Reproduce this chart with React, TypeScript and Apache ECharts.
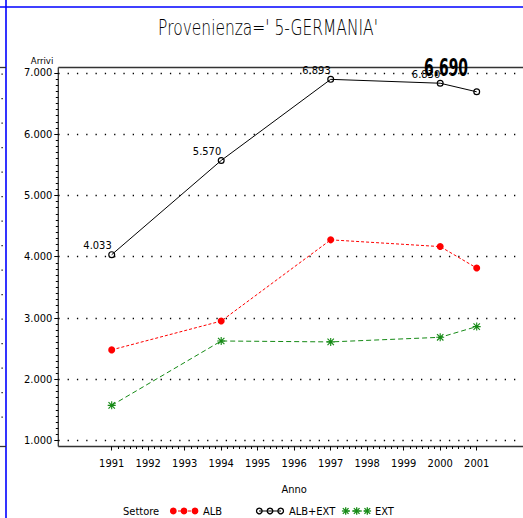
import React, { useEffect, useRef } from 'react';
import * as echarts from 'echarts';

// ---- data ----
const years = [1991, 1994, 1997, 2000, 2001];
const albExt = [4033, 5570, 6893, 6830, 6690];
const alb = [2480, 2950, 4275, 4165, 3815];
const ext = [1575, 2625, 2610, 2685, 2860];
const seriesNames = ['ALB', 'ALB+EXT', 'EXT'];
const titleText = "Provenienza=' 5-GERMANIA'";
const yAxisName = 'Arrivi';
const xAxisName = 'Anno';
const legendTitle = 'Settore';
const yMin = 1000;
const yMax = 7000;
const yStep = 1000;
const xMin = 1991;
const xMax = 2001;

const FONT = "'Liberation Sans Narrow', 'DejaVu Sans Condensed', 'Arial Narrow', sans-serif";
const RED = '#ff0000';
const BLACK = '#000000';
const GREEN = '#158a15';

const STAR =
  'path://M0 4.3H10V5.7H0Z M4.3 0H5.7V10H4.3Z M1.5 0.5L9.5 8.5L8.5 9.5L0.5 1.5Z M8.5 0.5L9.5 1.5L1.5 9.5L0.5 8.5Z';
const RING =
  'path://M5 0A5 5 0 1 1 5 10A5 5 0 1 1 5 0Z M5 1.7A3.3 3.3 0 1 0 5 8.3A3.3 3.3 0 1 0 5 1.7Z';

const fmt = (v: number) => {
  const s = Math.round(v).toString();
  return s.length > 3 ? s.slice(0, -3) + '.' + s.slice(-3) : s;
};

// layout
const W = 523;
const H = 518;
const X0 = 111.7;
const X1 = 476.7;
const YT = 72.8;
const YB = 440.6;
const FRAME_L = 58.3;
const FRAME_T = 67.5;
const FRAME_B = 446.5;

function measure(text: string, font: string) {
  const c = document.createElement('canvas').getContext('2d');
  if (!c) return text.length * 8;
  c.font = font;
  return c.measureText(text).width || text.length * 8;
}

function starLines(cx: number, cy: number, r: number, color: string) {
  const d = r * 0.75;
  const segs = [
    [cx - r, cy, cx + r, cy],
    [cx, cy - r, cx, cy + r],
    [cx - d, cy - d, cx + d, cy + d],
    [cx + d, cy - d, cx - d, cy + d],
  ];
  return segs.map((s) => ({
    type: 'line',
    shape: { x1: s[0], y1: s[1], x2: s[2], y2: s[3] },
    style: { stroke: color, lineWidth: 1.3 },
    silent: true,
  }));
}

export default function App() {
  const ref = useRef<HTMLDivElement>(null);
  useEffect(() => {
    document.body.style.margin = '0';
    const chart = echarts.init(ref.current!, null, { renderer: 'svg' });

    const graphics: any[] = [];
    // blue frame remnants
    graphics.push({ type: 'line', shape: { x1: 0, y1: 7, x2: W, y2: 7 }, style: { stroke: '#0000ff', lineWidth: 1.6 } });
    graphics.push({ type: 'line', shape: { x1: 6, y1: 0, x2: 6, y2: H }, style: { stroke: '#0000ff', lineWidth: 1.6 } });
    graphics.push({ type: 'line', shape: { x1: 0, y1: FRAME_T, x2: 6, y2: FRAME_T }, style: { stroke: '#333', lineWidth: 1.3 } });
    graphics.push({ type: 'line', shape: { x1: 0, y1: FRAME_B, x2: 6, y2: FRAME_B }, style: { stroke: '#333', lineWidth: 1.3 } });
    for (let k = 0; k <= 14; k++) {
      graphics.push({ type: 'rect', shape: { x: 1.5, y: 73.5 + k * 24.5, width: 1.2, height: 1.2 }, style: { fill: '#000' } });
    }
    // plot frame
    graphics.push({ type: 'line', shape: { x1: FRAME_L, y1: FRAME_T, x2: W, y2: FRAME_T }, style: { stroke: '#333', lineWidth: 1.5 } });
    graphics.push({ type: 'line', shape: { x1: FRAME_L, y1: FRAME_B, x2: W, y2: FRAME_B }, style: { stroke: '#333', lineWidth: 1.5 } });
    graphics.push({ type: 'line', shape: { x1: FRAME_L, y1: FRAME_T, x2: FRAME_L, y2: FRAME_B }, style: { stroke: '#333', lineWidth: 1.3 } });
    // title (thin, condensed to the reference width)
    const titleFontFamily = "'DejaVu Sans', sans-serif";
    const titleW = measure(titleText, `200 21px ${titleFontFamily}`);
    graphics.push({
      type: 'text',
      x: 268,
      y: 28,
      scaleX: 220 / titleW,
      style: {
        text: titleText,
        fontFamily: titleFontFamily,
        fontWeight: 200,
        fontSize: 21,
        fill: '#000',
        align: 'center',
        verticalAlign: 'middle',
      },
    });
    // legend
    const ly = 511;
    graphics.push({ type: 'text', x: 123, y: ly, style: { text: legendTitle, fontFamily: FONT, fontSize: 11, fill: '#000', verticalAlign: 'middle' } });
    // ALB
    graphics.push({ type: 'line', shape: { x1: 173, y1: ly, x2: 195, y2: ly }, style: { stroke: RED, lineWidth: 1, lineDash: [3, 2] } });
    [173.3, 184, 195].forEach((cx) =>
      graphics.push({ type: 'circle', shape: { cx, cy: ly, r: 3.4 }, style: { fill: RED } })
    );
    graphics.push({ type: 'text', x: 203, y: ly, style: { text: seriesNames[0], fontFamily: FONT, fontSize: 11, fill: '#000', verticalAlign: 'middle' } });
    // ALB+EXT
    graphics.push({ type: 'line', shape: { x1: 259, y1: ly, x2: 281, y2: ly }, style: { stroke: BLACK, lineWidth: 1 } });
    [259.3, 270, 280.7].forEach((cx) =>
      graphics.push({ type: 'circle', shape: { cx, cy: ly, r: 2.8 }, style: { fill: 'none', stroke: BLACK, lineWidth: 1.3 } })
    );
    graphics.push({ type: 'text', x: 289, y: ly, style: { text: seriesNames[1], fontFamily: FONT, fontSize: 11, fill: '#000', verticalAlign: 'middle' } });
    // EXT
    graphics.push({ type: 'line', shape: { x1: 346, y1: ly, x2: 367, y2: ly }, style: { stroke: GREEN, lineWidth: 1, lineDash: [4, 2] } });
    [345.7, 356.7, 367.3].forEach((cx) => starLines(cx, ly, 3.8, GREEN).forEach((g) => graphics.push(g)));
    graphics.push({ type: 'text', x: 375, y: ly, style: { text: seriesNames[2], fontFamily: FONT, fontSize: 11, fill: '#000', verticalAlign: 'middle' } });

    const labelBase = {
      show: true,
      formatter: (p: any) => fmt(p.value[1]),
      position: [3.5, 0],
      align: 'right',
      verticalAlign: 'bottom',
      fontFamily: FONT,
      fontSize: 11,
      color: '#000',
    };

    const last = years.length - 1;

    const option: any = {
      animation: false,
      backgroundColor: '#fff',
      textStyle: { fontFamily: FONT },
      grid: [
        { left: X0, right: W - X1, top: YT, bottom: H - YB, containLabel: false, outerBoundsMode: 'none' },
        { left: FRAME_L, right: 1, top: YT, bottom: H - YB, containLabel: false, outerBoundsMode: 'none' },
      ],
      xAxis: [
        {
          type: 'value',
          gridIndex: 0,
          min: xMin,
          max: xMax,
          interval: 1,
          offset: FRAME_B - YB,
          axisLine: { show: false },
          axisTick: { show: true, length: 4, lineStyle: { color: '#000', width: 1 } },
          minorTick: { show: true, splitNumber: 6, length: 2.5, lineStyle: { color: '#000', width: 1 } },
          splitLine: { show: false },
          axisLabel: { fontFamily: FONT, fontSize: 11, color: '#000', margin: 11, formatter: (v: number) => String(v) },
          name: xAxisName,
          nameLocation: 'middle',
          nameGap: 37,
          nameTextStyle: { fontFamily: FONT, fontSize: 11, color: '#000' },
        },
        { type: 'value', gridIndex: 1, min: 0, max: 1, show: false },
      ],
      yAxis: [
        { type: 'value', gridIndex: 0, min: yMin, max: yMax, interval: yStep, show: false },
        {
          type: 'value',
          gridIndex: 1,
          min: yMin,
          max: yMax,
          interval: yStep,
          axisLine: { show: false },
          axisTick: { show: true, length: 4, lineStyle: { color: '#000', width: 1 } },
          minorTick: { show: true, splitNumber: 10, length: 2.5, lineStyle: { color: '#000', width: 1 } },
          splitLine: { show: true, lineStyle: { color: '#000', width: 1.3, type: [1.3, 8] } },
          axisLabel: { fontFamily: FONT, fontSize: 11, color: '#000', margin: 6, formatter: (v: number) => fmt(v) },
          name: yAxisName,
          nameLocation: 'end',
          nameGap: 7,
          nameTextStyle: { fontFamily: FONT, fontSize: 9.5, color: '#000', align: 'right', verticalAlign: 'bottom', padding: [0, 5, 0, 0] },
        },
      ],
      series: [
        {
          type: 'line',
          name: seriesNames[0],
          xAxisIndex: 0,
          yAxisIndex: 0,
          data: years.map((y, i) => [y, alb[i]]),
          symbol: 'circle',
          symbolSize: 7,
          itemStyle: { color: RED },
          lineStyle: { color: RED, width: 1, type: [3, 2] },
          emphasis: { disabled: true },
          silent: true,
          z: 3,
        },
        {
          type: 'line',
          name: seriesNames[1],
          xAxisIndex: 0,
          yAxisIndex: 0,
          data: years.map((y, i) =>
            i === last ? { value: [y, albExt[i]], label: { show: false } } : { value: [y, albExt[i]] }
          ),
          symbol: RING,
          symbolSize: 7,
          itemStyle: { color: BLACK },
          lineStyle: { color: BLACK, width: 1 },
          label: labelBase,
          emphasis: { disabled: true },
          silent: true,
          z: 4,
        },
        {
          type: 'line',
          name: seriesNames[2],
          xAxisIndex: 0,
          yAxisIndex: 0,
          data: years.map((y, i) => [y, ext[i]]),
          symbol: STAR,
          symbolSize: 8,
          itemStyle: { color: GREEN },
          lineStyle: { color: GREEN, width: 1, type: [5, 3] },
          emphasis: { disabled: true },
          silent: true,
          z: 3,
        },
      ],
      graphic: graphics,
    };
    chart.setOption(option);

    // big label of the last ALB+EXT point, positioned from the chart's own scales
    const p = chart.convertToPixel({ gridIndex: 0 }, [years[last], albExt[last]]) as number[];
    const bigText = fmt(albExt[last]);
    const bigFont = "'DejaVu Sans', sans-serif";
    const bigW = measure(bigText, `bold 24px ${bigFont}`);
    chart.setOption({
      graphic: [
        ...graphics,
        {
          type: 'text',
          x: p[0] - 8.7,
          y: p[1] - 24,
          scaleX: 44 / bigW,
          z: 10,
          style: {
            text: bigText,
            fontFamily: bigFont,
            fontWeight: 'bold',
            fontSize: 24,
            fill: '#000',
            align: 'right',
            verticalAlign: 'middle',
          },
        },
      ],
    });
    return () => chart.dispose();
  }, []);
  return <div ref={ref} style={{ position: 'fixed', left: 0, top: 0, width: W, height: H }} />;
}
